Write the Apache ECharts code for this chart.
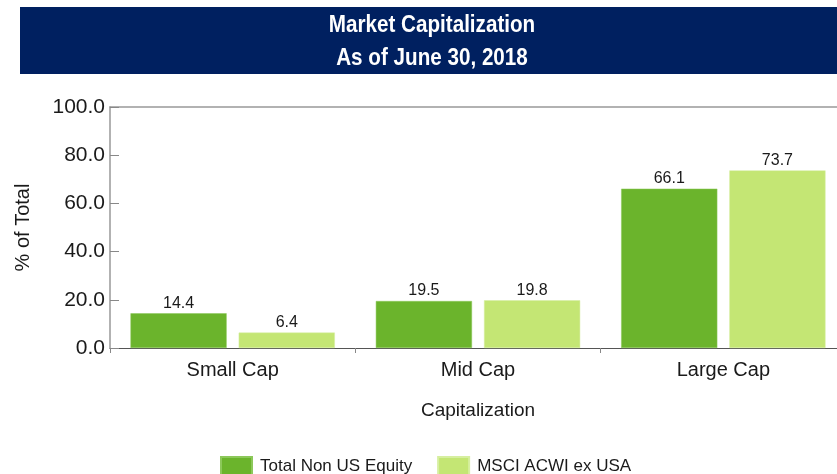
<!DOCTYPE html>
<html>
<head>
<meta charset="utf-8">
<script src="https://cdn.jsdelivr.net/npm/echarts@6/dist/echarts.min.js"></script>
<style>
  html, body { margin: 0; padding: 0; background: #fff; overflow: hidden; }
  #chart { width: 846px; height: 474px; }
</style>
</head>
<body>
<div id="chart"></div>
<script>
// Market capitalization breakdown, % of total
const categories = ['Small Cap', 'Mid Cap', 'Large Cap'];
const totalNonUS = [14.4, 19.5, 66.1];
const msciAcwiExUSA = [6.4, 19.8, 73.7];
const seriesNames = ['Total Non US Equity', 'MSCI ACWI ex USA'];
const yTicks = [0, 20, 40, 60, 80, 100];
const titleLines = ['Market Capitalization', 'As of June 30, 2018'];

const chart = echarts.init(document.getElementById('chart'));
const font = 'Liberation Sans, Arial, sans-serif';

const labelStyle = {
  show: true,
  position: 'top',
  distance: 2,
  color: '#1a1a1a',
  fontFamily: font,
  fontSize: 16,
  formatter: p => p.value.toFixed(1)
};

// condensed bold heading lines on the navy banner
const headingText = (text, y) => ({
  type: 'text',
  x: 432,
  y: y,
  scaleX: 0.86,
  style: {
    text: text,
    fill: '#ffffff',
    font: 'bold 24px ' + font,
    textAlign: 'center',
    textVerticalAlign: 'middle'
  }
});

chart.setOption({
  animation: false,
  graphic: [{
    type: 'rect',
    shape: { x: 20, y: 7, width: 830, height: 67 },
    style: { fill: '#002060' },
    z: -1
  }, headingText(titleLines[0], 25), headingText(titleLines[1], 58)],
  legend: {
    top: 451,
    left: 215,
    itemWidth: 31,
    itemHeight: 18,
    itemGap: 25,
    icon: 'rect',
    textStyle: { fontFamily: font, fontSize: 17, color: '#1a1a1a', padding: [0, 0, 0, 3] },
    data: seriesNames
  },
  grid: { left: 110, right: 0, top: 107, height: 241 },
  xAxis: [{
    type: 'category',
    data: categories,
    name: 'Capitalization',
    nameLocation: 'middle',
    nameGap: 53,
    nameTextStyle: { fontFamily: font, fontSize: 19, color: '#1a1a1a' },
    axisLine: { lineStyle: { color: '#555', width: 1 } },
    axisTick: { show: true, length: 5, lineStyle: { color: '#888' } },
    axisLabel: { fontFamily: font, fontSize: 20, color: '#1a1a1a', margin: 12 }
  }, {
    // top border of the plot
    type: 'category',
    position: 'top',
    data: categories,
    axisLine: { lineStyle: { color: '#999', width: 1.5 } },
    axisTick: { show: false },
    axisLabel: { show: false }
  }],
  yAxis: {
    type: 'value',
    min: yTicks[0],
    max: yTicks[yTicks.length - 1],
    interval: 20,
    name: '% of Total',
    nameLocation: 'middle',
    nameGap: 77,
    nameRotate: 90,
    nameTextStyle: { fontFamily: font, fontSize: 20, color: '#1a1a1a' },
    axisLine: { show: true, lineStyle: { color: '#999', width: 1.5 } },
    axisTick: { show: true, inside: true, length: 9, lineStyle: { color: '#888' } },
    splitLine: { show: false },
    axisLabel: {
      fontFamily: font, fontSize: 21, color: '#1a1a1a', margin: 5,
      formatter: v => v.toFixed(1)
    }
  },
  series: [{
    name: seriesNames[0],
    type: 'bar',
    data: totalNonUS,
    barGap: '12.5%',
    barCategoryGap: '16.7%',
    itemStyle: { color: '#6bb42c', borderColor: '#8cc85a', borderWidth: 0.5 },
    label: labelStyle
  }, {
    name: seriesNames[1],
    type: 'bar',
    data: msciAcwiExUSA,
    itemStyle: { color: '#c4e674', borderColor: '#d6efa0', borderWidth: 0.5 },
    label: labelStyle
  }]
});
</script>
</body>
</html>
